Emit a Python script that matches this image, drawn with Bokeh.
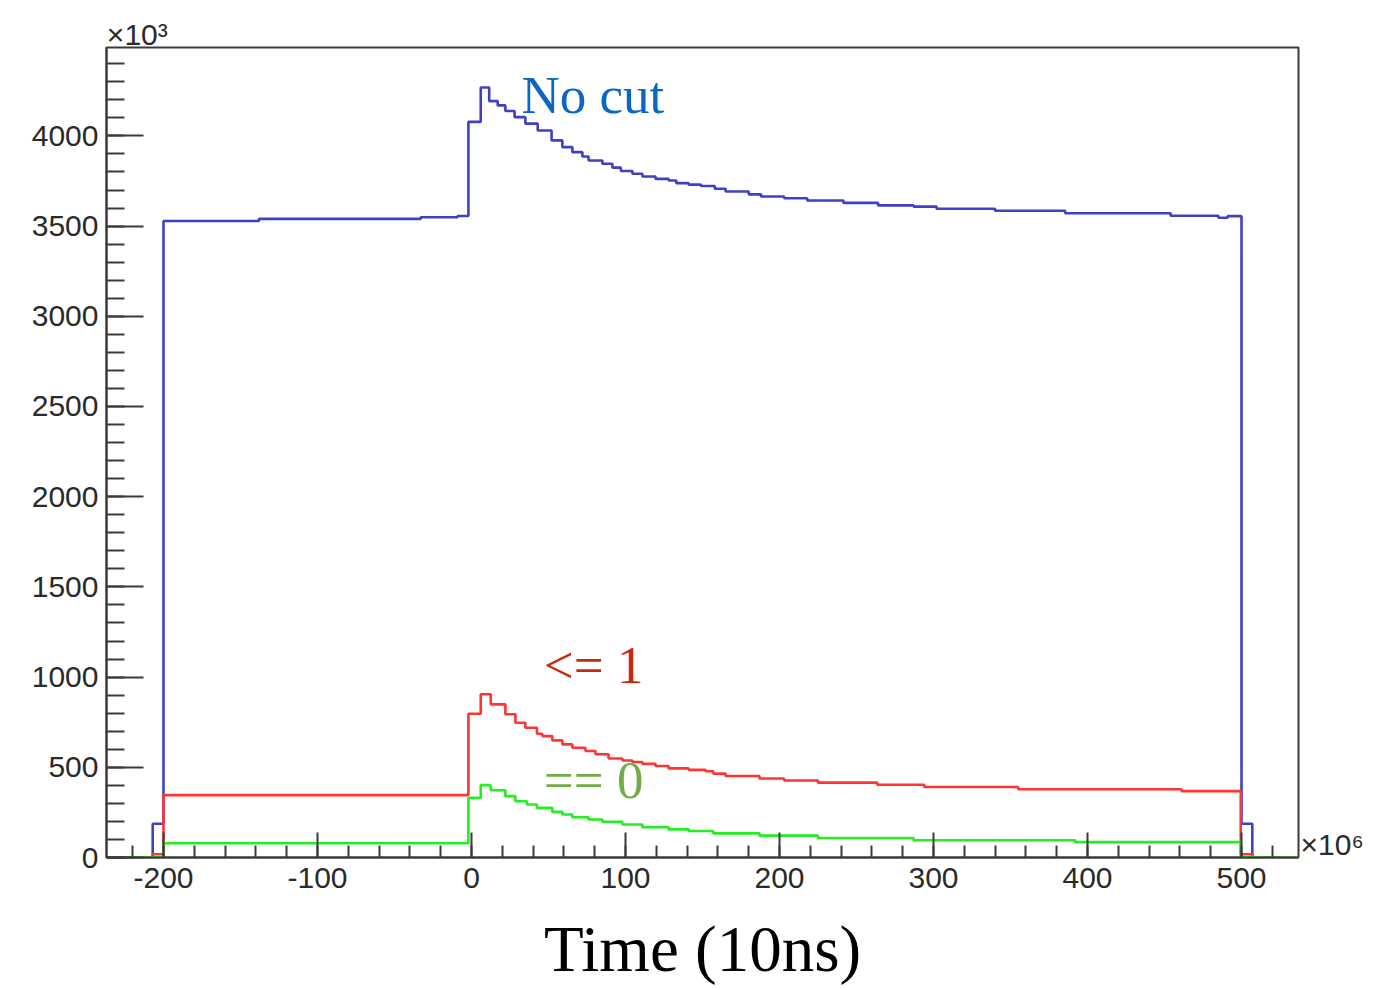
from bokeh.plotting import figure
from bokeh.models import Range1d, FixedTicker, Label, LinearAxis
from bokeh.embed import file_html
from bokeh.resources import INLINE

# x: time in units of 10^6 x 10 ns ; y: counts in units of 10^3
x_min, x_max = -237, 537
y_max = 4490

blue_edges = [-207, -200, -138, -33, -9, -2, 6, 11.5, 17, 22, 28, 35, 43, 52, 59, 65.5,
              72, 76, 85, 91.5, 97, 104.5, 111, 119.5, 128, 133, 141, 149, 158, 165,
              180, 188, 203, 218, 241.5, 264, 287, 302, 340, 385.5, 454, 485, 491, 500, 507]
blue_counts = [187, 3528, 3540, 3549, 3556, 4078, 4268, 4193, 4169, 4138, 4104, 4068, 4030, 3975, 3938,
               3910, 3886, 3864, 3846, 3824, 3805, 3790, 3775, 3762, 3753, 3738, 3730, 3722, 3707,
               3692, 3676, 3664, 3654, 3642, 3629, 3615, 3608, 3596, 3585, 3571, 3557, 3546, 3555, 187]

red_edges = [-207, -200, -2, 6, 12.5, 22, 28.5, 35, 42.5, 46, 52.5, 59, 65.5, 74, 80.5, 89, 98,
             104.5, 111, 119.5, 128, 141, 152, 157, 165, 187, 203, 225, 263.5, 294, 355, 461, 499.5, 507]
red_counts = [18, 346, 797, 905, 849, 794, 747, 719, 686, 673, 649, 627, 608, 590, 572, 549, 538,
              529, 519, 507, 494, 486, 478, 465, 452, 438, 427, 415, 403, 391, 378, 368, 18]

green_edges = [-200, -2, 6, 12.5, 22, 28.5, 36, 42.5, 52.5, 59, 65.5, 76, 85, 98, 111, 128, 141,
               157, 187, 225, 287, 392, 499.5]
green_counts = [79, 331, 401, 373, 340, 312, 294, 275, 253, 238, 223, 211, 198, 183, 168, 156, 147,
                134, 121, 108, 96, 85]

x_major = [-200, -100, 0, 100, 200, 300, 400, 500]
y_major = [0, 500, 1000, 1500, 2000, 2500, 3000, 3500, 4000]


def outline(edges, counts):
    xs = [x_min, edges[0]]
    ys = [0, 0]
    for i, c in enumerate(counts):
        xs += [edges[i], edges[i + 1]]
        ys += [c, c]
    xs += [edges[-1], x_max]
    ys += [0, 0]
    return xs, ys


p = figure(frame_width=1192, frame_height=810, x_range=Range1d(x_min, x_max), y_range=Range1d(0, y_max),
           output_backend="svg", toolbar_location=None,
           min_border_left=106, min_border_right=67, min_border_top=47, min_border_bottom=100)
p.xgrid.visible = False
p.ygrid.visible = False
p.background_fill_color = "white"
p.border_fill_color = "white"
p.outline_line_color = "#3a3a3a"
p.outline_line_width = 2

for edges, counts, col in [(blue_edges, blue_counts, "#4040c4"),
                           (red_edges, red_counts, "#ff3434"),
                           (green_edges, green_counts, "#22ee22")]:
    xs, ys = outline(edges, counts)
    p.line(xs, ys, line_color=col, line_width=2.6)

x_minor = [v for v in range(-220, 540, 20)]
y_minor = [v for v in range(0, 4500, 100)]

xa = p.xaxis[0]
xa.ticker = FixedTicker(ticks=x_major, minor_ticks=x_minor)
xa.major_label_overrides = {v: str(v) for v in x_major}
ya = p.yaxis[0]
ya.ticker = FixedTicker(ticks=y_major, minor_ticks=y_minor)
ya.major_label_overrides = {v: str(v) for v in y_major}

for ax, tin, mtin in [(xa, 25, 12), (ya, 37, 18)]:
    ax.axis_line_color = "#3a3a3a"
    ax.axis_line_width = 2
    ax.major_tick_line_color = "#3a3a3a"
    ax.minor_tick_line_color = "#3a3a3a"
    ax.major_tick_line_width = 2
    ax.minor_tick_line_width = 2
    ax.major_tick_in = tin
    ax.major_tick_out = 0
    ax.minor_tick_in = mtin
    ax.minor_tick_out = 0
    ax.major_label_text_font = "Liberation Sans"
    ax.major_label_text_font_size = "30px"
    ax.major_label_text_color = "#2a2a2a"
xa.major_label_standoff = 10
ya.major_label_standoff = 8

xa.axis_label = "Time (10ns)"
xa.axis_label_text_font = "Liberation Serif"
xa.axis_label_text_font_size = "65px"
xa.axis_label_text_font_style = "normal"
xa.axis_label_text_color = "black"
xa.axis_label_text_line_height = 0.9
xa.axis_label_standoff = 22

# exponent markers (ROOT style)
top_mark = -217
right_mark = 70
top_ax = LinearAxis(ticker=FixedTicker(ticks=[top_mark], minor_ticks=[]),
                    major_label_overrides={top_mark: "\u00d710\u00b3"})
p.add_layout(top_ax, "above")
right_ax = LinearAxis(ticker=FixedTicker(ticks=[right_mark], minor_ticks=[]),
                      major_label_overrides={right_mark: "\u00d710\u2076"})
p.add_layout(right_ax, "right")
for ax in (top_ax, right_ax):
    ax.axis_line_color = None
    ax.major_tick_line_color = None
    ax.minor_tick_line_color = None
    ax.major_tick_in = 0
    ax.major_tick_out = 0
    ax.major_label_text_font = "Liberation Sans"
    ax.major_label_text_font_size = "30px"
    ax.major_label_text_color = "#2a2a2a"
top_ax.major_label_standoff = -3
right_ax.major_label_standoff = 2

serif = "Liberation Serif"
p.add_layout(Label(x=32.5, y=4123, y_offset=19, text="No cut", text_font=serif, text_font_size="53px",
                   text_color="#0B67C2", text_baseline="alphabetic"))
p.add_layout(Label(x=47, y=960, y_offset=19, text="<= 1", text_font=serif, text_font_size="53px",
                   text_color="#C8290C", text_baseline="alphabetic"))
p.add_layout(Label(x=47, y=322, y_offset=19, text="== 0", text_font=serif, text_font_size="53px",
                   text_color="#70AD47", text_baseline="alphabetic"))

open("out.html", "w").write(file_html(p, INLINE))
